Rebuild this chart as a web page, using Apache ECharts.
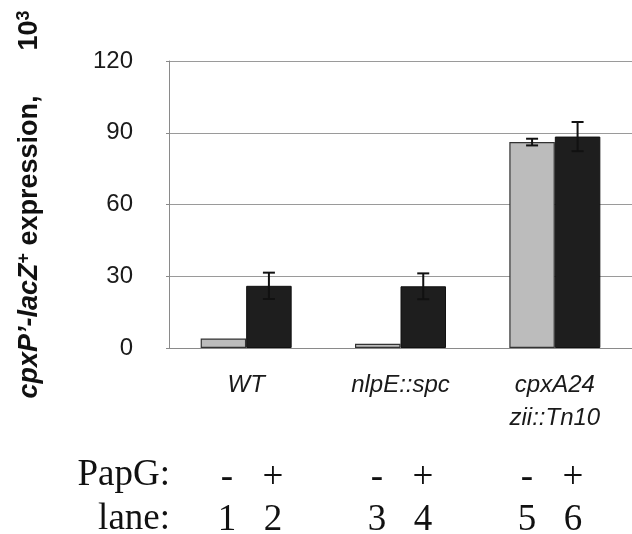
<!DOCTYPE html>
<html>
<head>
<meta charset="utf-8">
<script src="https://cdn.jsdelivr.net/npm/echarts@6/dist/echarts.min.js"></script>
<style>
  html, body { margin: 0; padding: 0; background: #fff; }
  #chart { width: 632px; height: 534px; }
</style>
</head>
<body>
<div id="chart"></div>
<script>
// ---- data ----
var categories = ['WT', 'nlpE::spc', 'cpxA24\nzii::Tn10'];
var withoutPapG = [4.0, 1.8, 86.1];
var withPapG = [26.0, 25.8, 88.4];
var errWithout = [0, 0, 1.4];
var errWith = [5.5, 5.4, 6.1];
var yTicks = [0, 30, 60, 90, 120];
var papGLabels = ['-', '+', '-', '+', '-', '+'];
var laneLabels = ['1', '2', '3', '4', '5', '6'];

// ---- layout ----
var BAR_W = 45.5;
var SANS = '"Liberation Sans", Arial, sans-serif';
var SERIF = '"Liberation Serif", "Times New Roman", serif';

var chart = echarts.init(document.getElementById('chart'), null, { renderer: 'canvas' });

function errorSeries(name, vals, errs, side) {
  return {
    type: 'custom',
    name: name,
    z: 5,
    data: vals.map(function (v, i) { return [i, v, errs[i]]; }),
    renderItem: function (params, api) {
      var e = api.value(2);
      if (!e) return null;
      var v = api.value(1);
      var c = api.coord([api.value(0), v]);
      var x = c[0] + side * BAR_W / 2;
      var top = api.coord([api.value(0), v + e])[1];
      var bot = api.coord([api.value(0), v - e])[1];
      var cap = 6;
      var st = { stroke: '#111', lineWidth: 2 };
      return {
        type: 'group',
        children: [
          { type: 'line', shape: { x1: x, y1: bot, x2: x, y2: top }, style: st },
          { type: 'line', shape: { x1: x - cap, y1: top, x2: x + cap, y2: top }, style: st },
          { type: 'line', shape: { x1: x - cap, y1: bot, x2: x + cap, y2: bot }, style: st }
        ]
      };
    }
  };
}

var graphics = [
  { type: 'text', style: { text: 'PapG:', x: 170, y: 475, textAlign: 'right', textVerticalAlign: 'middle', font: '37px ' + SERIF, fill: '#111' } },
  { type: 'text', style: { text: 'lane:', x: 170, y: 519, textAlign: 'right', textVerticalAlign: 'middle', font: '37px ' + SERIF, fill: '#111' } }
];
for (var i = 0; i < papGLabels.length; i++) {
  var g = Math.floor(i / 2);
  var x = 250 + 150 * g + (i % 2 === 0 ? -23 : 23);
  graphics.push({ type: 'text', style: { text: papGLabels[i], x: x, y: 478, textAlign: 'center', textVerticalAlign: 'middle', font: '37px ' + SERIF, fill: '#111' } });
  graphics.push({ type: 'text', style: { text: laneLabels[i], x: x, y: 520, textAlign: 'center', textVerticalAlign: 'middle', font: '37px ' + SERIF, fill: '#111' } });
}

var option = {
  animation: false,
  backgroundColor: '#fff',
  grid: { left: 169, top: 61, width: 472, height: 287, containLabel: false },
  xAxis: {
    type: 'category',
    data: categories,
    axisLine: { lineStyle: { color: '#8a8a8a', width: 1 } },
    axisTick: { length: 8, lineStyle: { color: '#8a8a8a' } },
    axisLabel: {
      margin: 21,
      fontFamily: SANS,
      fontStyle: 'italic',
      fontSize: 24,
      lineHeight: 33,
      color: '#1a1a1a',
      interval: 0
    }
  },
  yAxis: {
    type: 'value',
    min: 0,
    max: 120,
    interval: 30,
    axisLine: { show: true, lineStyle: { color: '#8a8a8a', width: 1 } },
    axisTick: { show: true, length: 3, lineStyle: { color: '#8a8a8a' } },
    splitLine: { lineStyle: { color: '#9a9a9a', width: 1 } },
    axisLabel: {
      margin: 36,
      fontFamily: SANS,
      fontSize: 24,
      color: '#1a1a1a',
      formatter: function (v) { return yTicks.indexOf(v) >= 0 ? String(v) : ''; }
    },
    name: '{bi|cpxP\u2019-lacZ}{sup|+}{b| expression,      10}{sup|3}',
    nameLocation: 'middle',
    nameRotate: 90,
    nameGap: 124,
    nameTextStyle: {
      fontFamily: SANS,
      fontSize: 27,
      fontWeight: 'bold',
      color: '#111',
      rich: {
        bi: { fontFamily: SANS, fontSize: 27, fontWeight: 'bold', fontStyle: 'italic', color: '#111', lineHeight: 30 },
        b: { fontFamily: SANS, fontSize: 27, fontWeight: 'bold', color: '#111', lineHeight: 30 },
        sup: { fontFamily: SANS, fontSize: 18, fontWeight: 'bold', color: '#111', verticalAlign: 'top', lineHeight: 18 }
      }
    }
  },
  series: [
    {
      type: 'bar',
      name: 'PapG -',
      data: withoutPapG,
      barWidth: BAR_W,
      barGap: '0%',
      itemStyle: { color: '#bcbcbc', borderColor: '#333', borderWidth: 1.2 }
    },
    {
      type: 'bar',
      name: 'PapG +',
      data: withPapG,
      barWidth: BAR_W,
      barGap: '0%',
      itemStyle: { color: '#1e1e1e', borderColor: '#111', borderWidth: 1 }
    },
    errorSeries('err -', withoutPapG, errWithout, -1),
    errorSeries('err +', withPapG, errWith, 1)
  ],
  graphic: graphics
};
chart.setOption(option);
</script>
</body>
</html>
